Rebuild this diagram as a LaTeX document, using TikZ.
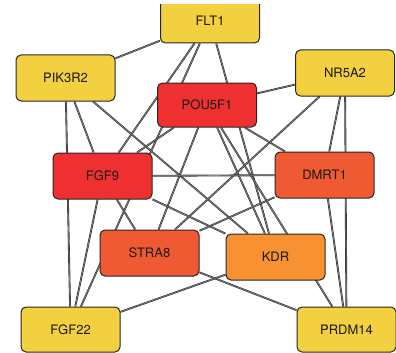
\documentclass[tikz,border=0pt]{standalone}
\usepackage{fontspec}
\setmainfont{TeX Gyre Heros}
\usetikzlibrary{backgrounds}
\definecolor{gyellow}{HTML}{F2D040}
\definecolor{gred}{HTML}{EE3030}
\definecolor{gorred}{HTML}{F05A32}
\definecolor{gorange}{HTML}{F79132}
\begin{document}
\begin{tikzpicture}[x=1pt,y=-1pt,
  gene/.style={draw=black!85, line width=1pt, rounded corners=5pt,
    minimum width=99pt, minimum height=46pt, inner sep=0pt,
    font=\fontsize{13}{15}\selectfont, text=black!90},
  edge/.style={draw=black!80, line width=0.65pt, double=black!45, double distance=0.55pt}]
\useasboundingbox (0,0) rectangle (396,353);
\begin{scope}
  \clip (140,5) rectangle (280,60);
  \node[gene, fill=gyellow, minimum height=44pt] (flt1) at (210,21) {FLT1};
\end{scope}
\node[gene, fill=gyellow] (pik3r2) at (65.5,78) {PIK3R2};
\node[gene, fill=gyellow] (nr5a2) at (345,73) {NR5A2};
\node[gene, fill=gred, minimum height=44pt] (pou5f1) at (207,105) {POU5F1};
\node[gene, fill=gred] (fgf9) at (102.5,176) {FGF9};
\node[gene, fill=gorred] (dmrt1) at (324.5,175) {DMRT1};
\node[gene, fill=gorred] (stra8) at (149.5,253) {STRA8};
\node[gene, fill=gorange] (kdr) at (275.5,257) {KDR};
\node[gene, fill=gyellow, minimum height=45pt] (fgf22) at (70.5,329.5) {FGF22};
\node[gene, fill=gyellow, minimum height=45pt] (prdm14) at (346.5,329.5) {PRDM14};
\begin{scope}[on background layer]
  \draw[edge] (flt1) -- (pik3r2);
  \draw[edge] (flt1) -- (fgf9);
  \draw[edge] (flt1) -- (fgf22);
  \draw[edge] (flt1) -- (kdr);
  \draw[edge] (pik3r2) -- (fgf22);
  \draw[edge] (pik3r2) -- (fgf9);
  \draw[edge] (pik3r2) -- (kdr);
  \draw[edge] (nr5a2) -- (pou5f1);
  \draw[edge] (nr5a2) -- (dmrt1);
  \draw[edge] (nr5a2) -- (prdm14);
  \draw[edge] (nr5a2) -- (stra8);
  \draw[edge] (pou5f1) -- (fgf9);
  \draw[edge] (pou5f1) -- (stra8);
  \draw[edge] (pou5f1) -- (kdr);
  \draw[edge] (pou5f1) -- (dmrt1);
  \draw[edge] (pou5f1) -- (prdm14);
  \draw[edge] (fgf9) -- (dmrt1);
  \draw[edge] (fgf9) -- (stra8);
  \draw[edge] (fgf9) -- (kdr);
  \draw[edge] (fgf9) -- (fgf22);
  \draw[edge] (dmrt1) -- (stra8);
  \draw[edge] (dmrt1) -- (prdm14);
  \draw[edge] (stra8) -- (prdm14);
  \draw[edge] (kdr) -- (fgf22);
\end{scope}
\end{tikzpicture}
\end{document}
